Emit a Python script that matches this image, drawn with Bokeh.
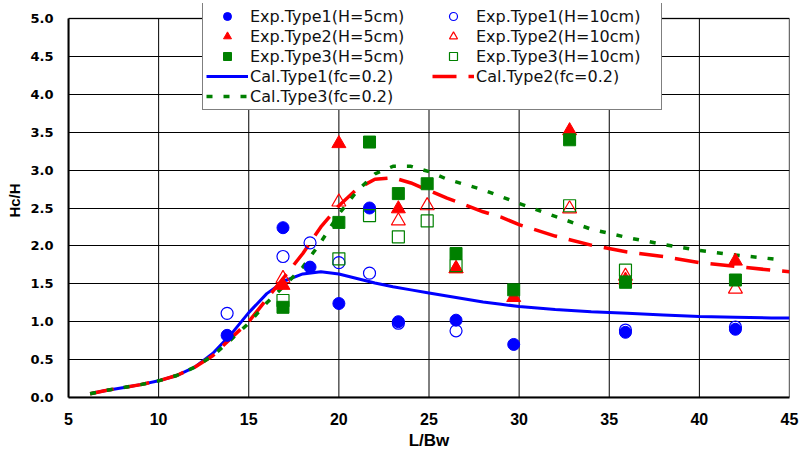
from bokeh.plotting import figure
from bokeh.models import Legend, LegendItem, FixedTicker, NumeralTickFormatter, Range1d, BoxAnnotation
from bokeh.embed import file_html
from bokeh.resources import INLINE

# ---- data ----
t1_h5_x = [13.8, 16.9, 18.4, 20.0, 21.7, 23.3, 26.5, 29.7, 35.9, 42.0]
t1_h5_y = [0.82, 2.24, 1.72, 1.24, 2.50, 1.00, 1.02, 0.70, 0.86, 0.90]
t1_h10_x = [13.8, 16.9, 18.4, 20.0, 21.7, 23.3, 26.5, 35.9, 42.0]
t1_h10_y = [1.11, 1.86, 2.04, 1.78, 1.64, 0.98, 0.88, 0.89, 0.93]
t2_h5_x = [16.9, 20.0, 23.3, 26.5, 29.7, 32.8, 35.9, 42.0]
t2_h5_y = [1.48, 3.35, 2.49, 1.70, 1.32, 3.52, 1.55, 1.80]
t2_h10_x = [16.9, 20.0, 23.3, 24.9, 26.5, 32.8, 35.9, 42.0]
t2_h10_y = [1.57, 2.58, 2.33, 2.53, 1.70, 2.49, 1.60, 1.43]
t3_h5_x = [16.9, 20.0, 21.7, 23.3, 24.9, 26.5, 29.7, 32.8, 35.9, 42.0]
t3_h5_y = [1.19, 2.31, 3.37, 2.69, 2.82, 1.90, 1.42, 3.40, 1.52, 1.55]
t3_h10_x = [16.9, 20.0, 21.7, 23.3, 24.9, 26.5, 32.8, 35.9]
t3_h10_y = [1.28, 1.83, 2.40, 2.12, 2.33, 1.74, 2.53, 1.68]

cal_x = [6.2, 7, 8, 9, 10, 11, 12, 13, 14, 15, 16, 17, 18, 19, 20, 21, 22, 23, 24, 25,
         26, 27, 28, 29, 30, 32, 34, 36, 38, 40, 42, 44, 45]
cal1_y = [0.05, 0.09, 0.13, 0.17, 0.22, 0.29, 0.40, 0.58, 0.83, 1.12, 1.37, 1.54, 1.63, 1.66,
          1.63, 1.57, 1.51, 1.46, 1.42, 1.38, 1.34, 1.30, 1.26, 1.23, 1.20, 1.16, 1.13, 1.11,
          1.09, 1.07, 1.06, 1.05, 1.05]
cal2_y = [0.05, 0.09, 0.13, 0.17, 0.22, 0.29, 0.40, 0.55, 0.78, 1.00, 1.30, 1.60, 1.90, 2.25,
          2.53, 2.75, 2.88, 2.90, 2.83, 2.73, 2.63, 2.54, 2.45, 2.38, 2.28, 2.13, 2.01, 1.92,
          1.86, 1.78, 1.73, 1.68, 1.66]
cal3_x = [6.2, 7, 8, 9, 10, 11, 12, 13, 14, 15, 16, 17, 18, 19, 20, 21, 22, 23, 24, 25,
          26, 27, 28, 29, 30, 32, 34, 36, 38, 40, 42, 44, 44.7]
cal3_y = [0.05, 0.09, 0.13, 0.17, 0.22, 0.29, 0.40, 0.55, 0.76, 0.98, 1.25, 1.48, 1.72, 2.05,
          2.42, 2.72, 2.95, 3.05, 3.05, 2.98, 2.88, 2.81, 2.74, 2.65, 2.56, 2.39, 2.22, 2.11,
          2.02, 1.94, 1.88, 1.83, 1.81]

x_ticks = [5, 10, 15, 20, 25, 30, 35, 40, 45]
y_ticks = [0.0, 0.5, 1.0, 1.5, 2.0, 2.5, 3.0, 3.5, 4.0, 4.5, 5.0]
X_MIN, X_MAX, Y_MIN, Y_MAX = 5, 45, 0, 5

BLUE = "#0000FF"
RED = "#FF0000"
GREEN = "#008000"

# frame extends a little above 5.0 so the legend (which sits over the top edge) is not clipped
Y_TOP = Y_MAX + 15 / 75.8

p = figure(width=808, height=458, output_backend="svg", toolbar_location=None,
           x_range=Range1d(X_MIN, X_MAX), y_range=Range1d(Y_MIN, Y_TOP),
           min_border_left=68, min_border_right=19, min_border_top=3, min_border_bottom=61)
p.background_fill_color = "white"
p.border_fill_color = "white"
p.outline_line_color = None

for ax in (p.xaxis[0], p.yaxis[0]):
    ax.axis_line_color = "black"
    ax.axis_line_width = 2
    ax.major_tick_out = 0
    ax.major_tick_in = 0
    ax.minor_tick_out = 0
    ax.minor_tick_in = 0
    ax.major_label_text_font_style = "bold"
    ax.major_label_text_color = "black"
    ax.axis_label_text_font = "Liberation Sans"
    ax.axis_label_text_font_style = "bold"
    ax.axis_label_text_color = "black"

p.xaxis.major_label_text_font = "Liberation Sans"
p.xaxis.major_label_text_font_size = "16px"
p.yaxis.major_label_text_font = "DejaVu Sans"
p.yaxis.major_label_text_font_size = "13px"
p.xaxis.axis_label_text_font_size = "17px"
p.yaxis.axis_label_text_font_size = "15px"

p.xaxis.ticker = FixedTicker(ticks=x_ticks)
p.yaxis.ticker = FixedTicker(ticks=y_ticks)
p.yaxis.bounds = (Y_MIN, Y_MAX)
p.yaxis.formatter = NumeralTickFormatter(format="0.0")
p.xaxis.axis_label = "L/Bw"
p.yaxis.axis_label = "Hc/H"
p.xaxis.major_label_standoff = 15
p.yaxis.major_label_standoff = 15
p.xaxis.axis_label_standoff = 3
p.yaxis.axis_label_standoff = 4

p.xgrid.visible = False
p.ygrid.grid_line_color = "black"
p.ygrid.grid_line_width = 1
p.ygrid.ticker = FixedTicker(ticks=y_ticks)

# vertical grid lines, limited to the 0..5 data area
p.segment(x0=x_ticks, y0=[Y_MIN] * len(x_ticks), x1=x_ticks, y1=[Y_MAX] * len(x_ticks),
          line_color="black", line_width=1)
# plot-area border
p.add_layout(BoxAnnotation(left=X_MIN, right=X_MAX, bottom=Y_MIN, top=Y_MAX,
                           fill_alpha=0, line_color="black", line_width=2, level="underlay"))

# calculated lines
l1 = p.line(cal_x, cal1_y, line_color=BLUE, line_width=3)
l2 = p.line(cal_x, cal2_y, line_color=RED, line_width=3.5, line_dash="24 12")
l3 = p.line(cal3_x, cal3_y, line_color=GREEN, line_width=3.5, line_dash="6 11")

# experiments
r1 = p.scatter(t1_h5_x, t1_h5_y, marker="circle", size=12, fill_color=BLUE, line_color=BLUE)
r2 = p.scatter(t1_h10_x, t1_h10_y, marker="circle", size=12, fill_color=None, line_color=BLUE, line_width=1.2)
r3 = p.scatter(t2_h5_x, t2_h5_y, marker="triangle", size=14, fill_color=RED, line_color=RED)
r4 = p.scatter(t2_h10_x, t2_h10_y, marker="triangle", size=14, fill_color=None, line_color=RED, line_width=1.2)
r5 = p.scatter(t3_h5_x, t3_h5_y, marker="square", size=12, fill_color=GREEN, line_color=GREEN)
r6 = p.scatter(t3_h10_x, t3_h10_y, marker="square", size=12, fill_color=None, line_color=GREEN, line_width=1.2)

items = [
    LegendItem(label="Exp.Type1(H=5cm)", renderers=[r1]),
    LegendItem(label="Exp.Type1(H=10cm)", renderers=[r2]),
    LegendItem(label="Exp.Type2(H=5cm)", renderers=[r3]),
    LegendItem(label="Exp.Type2(H=10cm)", renderers=[r4]),
    LegendItem(label="Exp.Type3(H=5cm)", renderers=[r5]),
    LegendItem(label="Exp.Type3(H=10cm)", renderers=[r6]),
    LegendItem(label="Cal.Type1(fc=0.2)", renderers=[l1]),
    LegendItem(label="Cal.Type2(fc=0.2)", renderers=[l2]),
    LegendItem(label="Cal.Type3(fc=0.2)", renderers=[l3]),
]
legend = Legend(items=items, location=(134, 287), orientation="horizontal", ncols=2,
                label_text_font="DejaVu Sans", label_text_font_size="16px",
                label_text_color="#111111", label_height=20, glyph_height=20,
                glyph_width=42, label_standoff=2, label_width=182, spacing=0,
                padding=3, margin=0,
                border_line_color="black", border_line_width=1,
                background_fill_color="white", background_fill_alpha=1)
p.add_layout(legend, "center")

open("out.html", "w").write(file_html(p, INLINE))
